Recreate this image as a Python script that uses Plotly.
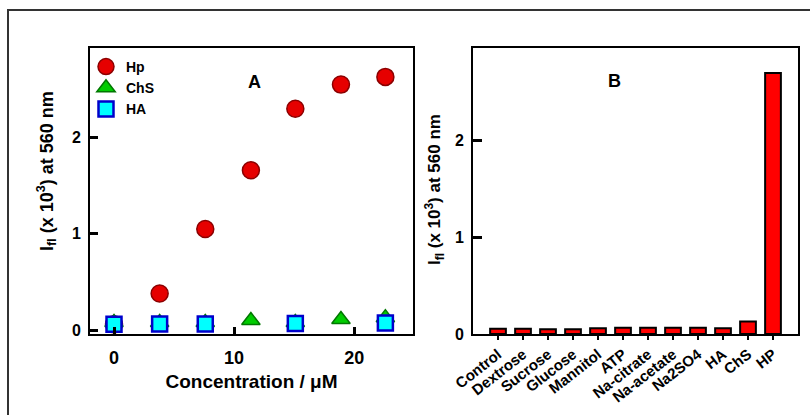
import plotly.graph_objects as go

# ---- Panel A data ----
conc = [0, 3.8, 7.6, 11.4, 15.1, 18.9, 22.6]
hp_vals = [0.06, 0.38, 1.05, 1.66, 2.30, 2.55, 2.63]
chs_vals = [0.08, 0.08, 0.08, 0.10, 0.08, 0.11, 0.13]
ha_conc = [0, 3.8, 7.6, 15.1, 22.6]
ha_vals = [0.06, 0.065, 0.065, 0.07, 0.075]

# ---- Panel B data ----
analytes = ["Control", "Dextrose", "Sucrose", "Glucose", "Mannitol", "ATP",
            "Na-citrate", "Na-acetate", "Na2SO4", "HA", "ChS", "HP"]
analyte_vals = [0.055, 0.055, 0.05, 0.05, 0.06, 0.065, 0.065, 0.065, 0.065, 0.06, 0.13, 2.70]

W, H = 810, 415
FONT = "Liberation Sans, Arial, sans-serif"

def px_x(p):
    return p / W

def px_y(p):
    return 1 - p / H

fig = go.Figure()

fig.add_trace(go.Scatter(
    x=conc, y=hp_vals, mode="markers", name="<b>Hp</b>",
    marker=dict(symbol="circle", size=17, color="#e60000",
                line=dict(color="#8b0000", width=1.5)),
    xaxis="x", yaxis="y"))
fig.add_trace(go.Scatter(
    x=conc, y=chs_vals, mode="markers", name="<b>ChS</b>",
    marker=dict(symbol="triangle-up", size=16, color="#00cc00",
                line=dict(color="#007700", width=1.5)),
    xaxis="x", yaxis="y"))
fig.add_trace(go.Scatter(
    x=ha_conc, y=ha_vals, mode="markers", name="<b>HA</b>",
    marker=dict(symbol="square", size=15, color="#00ffff",
                line=dict(color="#0000cc", width=2.5)),
    xaxis="x", yaxis="y"))

fig.add_trace(go.Bar(
    x=list(range(len(analytes))), y=analyte_vals, width=0.63,
    marker=dict(color="#ff0000", line=dict(color="black", width=2)),
    showlegend=False, xaxis="x2", yaxis="y2"))

ytitle = "<b>I<sub>fl</sub> (x 10<sup>3</sup>) at 560 nm</b>"

axis_common = dict(showline=True, linecolor="black", linewidth=2, mirror=True,
                   showgrid=False, zeroline=False, automargin=False)

fig.update_layout(
    width=W, height=H,
    margin=dict(l=0, r=0, t=0, b=0),
    paper_bgcolor="white", plot_bgcolor="white",
    font=dict(family=FONT, color="black"),
    showlegend=True,
    legend=dict(x=px_x(86), y=px_y(51), xanchor="left", yanchor="top",
                bgcolor="rgba(0,0,0,0)", font=dict(family=FONT, size=14),
                itemsizing="trace", tracegroupgap=0),
    xaxis=dict(domain=[px_x(90), px_x(413)], range=[-2.0, 24.9],
               tickvals=[0, 10, 20], ticktext=["<b>0</b>", "<b>10</b>", "<b>20</b>"],
               tickfont=dict(family=FONT, size=18, color="black"),
               ticks="inside", ticklen=7, tickwidth=2.5, tickcolor="black",
               ticklabelstandoff=6,
               title=dict(text="<b>Concentration / \u03bcM</b>",
                          font=dict(family=FONT, size=19), standoff=8),
               anchor="y", **axis_common),
    yaxis=dict(domain=[px_y(334), px_y(48)], range=[-0.04, 2.93],
               tickvals=[0, 1, 2], ticktext=["<b>0</b>", "<b>1</b>", "<b>2</b>"],
               tickfont=dict(family=FONT, size=16, color="black"),
               ticks="inside", ticklen=8, tickwidth=2.5, tickcolor="black",
               ticklabelstandoff=4,
               anchor="x", **axis_common),
    xaxis2=dict(domain=[px_x(473), px_x(798)], range=[-1, 12],
                tickvals=list(range(len(analytes))),
                ticktext=["<b>%s</b>" % a for a in analytes],
                tickfont=dict(family=FONT, size=15, color="black"),
                tickangle=-38, ticks="outside", ticklen=4, tickwidth=2, tickcolor="black",
                anchor="y2", **axis_common),
    yaxis2=dict(domain=[px_y(334), px_y(48)], range=[0, 2.96],
                tickvals=[0, 1, 2], ticktext=["<b>0</b>", "<b>1</b>", "<b>2</b>"],
                tickfont=dict(family=FONT, size=16, color="black"),
                ticks="inside", ticklen=9, tickwidth=2.5, tickcolor="black",
                ticklabelstandoff=4,
                anchor="x2", **axis_common),
    annotations=[
        dict(text="<b>A</b>", x=px_x(246), y=px_y(70), xref="paper", yref="paper",
             showarrow=False, font=dict(family=FONT, size=18, color="black")),
        dict(text="<b>B</b>", x=px_x(623), y=px_y(69), xref="paper", yref="paper",
             showarrow=False, font=dict(family=FONT, size=18, color="black")),
        dict(text=ytitle, textangle=-90, x=px_x(46), y=px_y(171),
             xref="paper", yref="paper", xanchor="center", yanchor="middle",
             showarrow=False, font=dict(family=FONT, size=18, color="black")),
        dict(text=ytitle, textangle=-90, x=px_x(435), y=px_y(190),
             xref="paper", yref="paper", xanchor="center", yanchor="middle",
             showarrow=False, font=dict(family=FONT, size=17, color="black")),
    ],
    shapes=[
        dict(type="rect", xref="paper", yref="paper",
             x0=px_x(8), x1=px_x(830), y0=px_y(440), y1=px_y(10),
             line=dict(color="#333333", width=2), layer="below"),
    ],
)

fig.write_html("out.html")
